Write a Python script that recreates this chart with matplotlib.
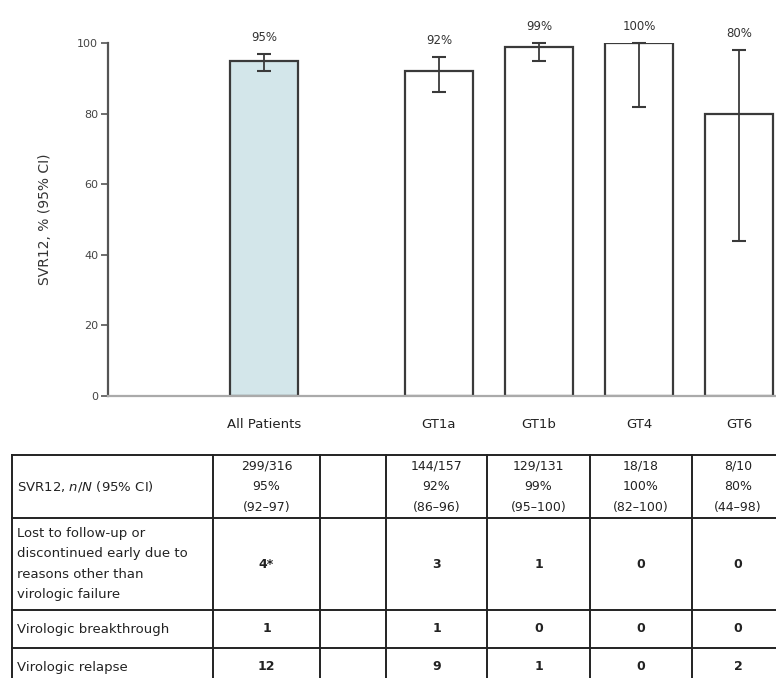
import matplotlib
matplotlib.use("Agg")
import matplotlib.pyplot as plt
from matplotlib.lines import Line2D

plt.rcParams['font.family'] = ['DejaVu Sans']

# ---- data ----
categories = ["All Patients", "GT1a", "GT1b", "GT4", "GT6"]
svr12 = [95, 92, 99, 100, 80]
ci_low = [92, 86, 95, 82, 44]
ci_high = [97, 96, 100, 100, 98]
bar_labels = ["95%", "92%", "99%", "100%", "80%"]

y_ticks = [0, 20, 40, 60, 80, 100]

row_labels = [
    "SVR12, n/N (95% CI)",
    "Lost to follow-up or\ndiscontinued early due to\nreasons other than\nvirologic failure",
    "Virologic breakthrough",
    "Virologic relapse",
]
table_cells = [
    ["299/316\n95%\n(92\u201397)", "", "144/157\n92%\n(86\u201396)", "129/131\n99%\n(95\u2013100)",
     "18/18\n100%\n(82\u2013100)", "8/10\n80%\n(44\u201398)"],
    ["4*", "", "3", "1", "0", "0"],
    ["1", "", "1", "0", "0", "0"],
    ["12", "", "9", "1", "0", "2"],
]

# ---- figure ----
W, H = 776, 678
fig = plt.figure(figsize=(W / 100, H / 100), dpi=100)

def fx(px):
    return px / W

def fy(py):
    return 1 - py / H

ax_left, ax_right, ax_top, ax_bottom = 108, 776, 43, 396
ax = fig.add_axes([fx(ax_left), fy(ax_bottom), fx(ax_right - ax_left), (ax_bottom - ax_top) / H])

positions = [0, 1.75, 2.75, 3.75, 4.75]
fills = ["#d3e6ea", "white", "white", "white", "white"]
ax.bar(positions, svr12, width=0.68, color=fills, edgecolor="#3a3a3a", linewidth=1.6, zorder=2)
yerr = [[v - lo for v, lo in zip(svr12, ci_low)], [hi - v for v, hi in zip(svr12, ci_high)]]
ax.errorbar(positions, svr12, yerr=yerr, fmt="none", ecolor="#3a3a3a", elinewidth=1.3,
            capsize=5, capthick=1.5, zorder=3, clip_on=False)
for x, hi, lab in zip(positions, ci_high, bar_labels):
    ax.text(x, hi + 4.6, lab, ha="center", va="center", fontsize=8.5, color="#333333")

ax.set_xlim(-1.56, 5.12)
ax.set_ylim(0, 100)
ax.set_yticks(y_ticks)
ax.set_yticklabels([str(t) for t in y_ticks], fontsize=8, color="#444444")
ax.set_xticks(positions)
ax.set_xticklabels(categories, fontsize=9.5, color="#222222")
ax.tick_params(axis="x", length=0, pad=16)
ax.tick_params(axis="y", length=5, width=1.2, color="#555555", pad=2)
for s in ["top", "right"]:
    ax.spines[s].set_visible(False)
ax.spines["left"].set_color("#555555")
ax.spines["left"].set_linewidth(1.6)
ax.spines["bottom"].set_color("#aaaaaa")
ax.spines["bottom"].set_linewidth(1.6)
ax.set_ylabel("SVR12, % (95% CI)", fontsize=10, color="#333333", labelpad=18)

# ---- table ----
col_edges = [12, 213, 320, 386, 487, 590, 692, 800]
row_edges = [455, 518, 610, 648, 700]
lc = "#222222"
for x in col_edges:
    fig.add_artist(Line2D([fx(x), fx(x)], [fy(row_edges[0]), fy(row_edges[-1])],
                          color=lc, linewidth=1.4, transform=fig.transFigure))
for y in row_edges:
    fig.add_artist(Line2D([fx(col_edges[0]), fx(col_edges[-1])], [fy(y), fy(y)],
                          color=lc, linewidth=1.4, transform=fig.transFigure))

line_step = 20.5
for r, (label, cells) in enumerate(zip(row_labels, table_cells)):
    top, bot = row_edges[r], min(row_edges[r + 1], 686)
    yc = (top + bot) / 2
    lines = label.split("\n")
    for i, ln in enumerate(lines):
        yy = yc + (i - (len(lines) - 1) / 2) * line_step
        if r == 0:
            ln = r"SVR12, $\it{n/N}$ (95% CI)"
        fig.text(fx(17), fy(yy), ln, ha="left", va="center", fontsize=9.5, color="#222222")
    for c, cell in enumerate(cells):
        xc = (col_edges[c + 1] + col_edges[c + 2]) / 2
        if c == 5:
            xc = 738
        clines = cell.split("\n")
        for i, ln in enumerate(clines):
            yy = yc + (i - (len(clines) - 1) / 2) * line_step
            fig.text(fx(xc), fy(yy), ln, ha="center", va="center", fontsize=9,
                     color="#222222", fontweight="bold" if len(clines) == 1 else "normal")

fig.savefig("out.png", dpi=100)
